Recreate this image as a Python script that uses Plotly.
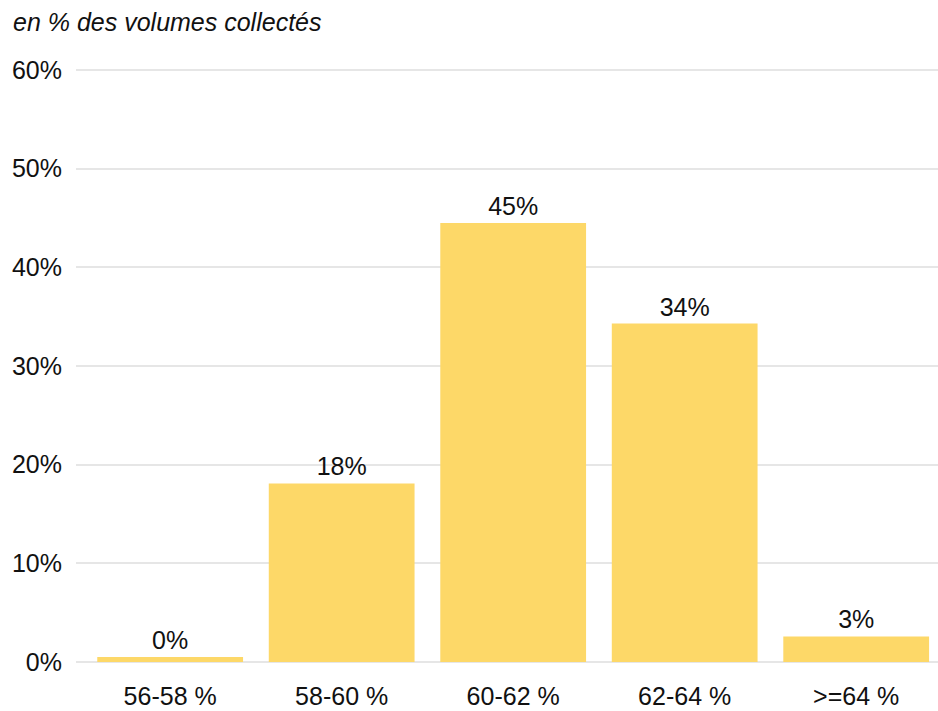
import plotly.graph_objects as go

categories = ["56-58 %", "58-60 %", "60-62 %", "62-64 %", ">=64 %"]
values = [0.5, 18.1, 44.5, 34.3, 2.6]
labels = ["0%", "18%", "45%", "34%", "3%"]
y_ticks = [0, 10, 20, 30, 40, 50, 60]
y_ticktext = ["0%", "10%", "20%", "30%", "40%", "50%", "60%"]

FONT = "Liberation Sans, Arial, sans-serif"
FS = 25

fig = go.Figure(go.Bar(
    x=list(range(len(categories))),
    y=values,
    text=labels,
    textposition="outside",
    textfont=dict(family=FONT, size=FS, color="#111111"),
    marker=dict(color="#fdd868", line=dict(width=0)),
    width=0.85,
    cliponaxis=False,
))

fig.update_layout(
    width=938, height=711,
    margin=dict(l=76, r=0, t=67, b=46, autoexpand=False),
    paper_bgcolor="white", plot_bgcolor="white",
    font=dict(family=FONT, size=FS, color="#111111"),
    showlegend=False,
    xaxis=dict(
        range=[-0.549, 4.477],
        tickvals=list(range(len(categories))),
        ticktext=categories,
        showgrid=False, zeroline=False, showline=False,
        ticks="outside", ticklen=9, tickcolor="rgba(0,0,0,0)",
        tickfont=dict(size=FS), automargin=False,
    ),
    yaxis=dict(
        range=[-0.3, 60.3],
        tickvals=y_ticks,
        ticktext=y_ticktext,
        showgrid=True, gridcolor="#e6e6e6", gridwidth=2,
        zeroline=False, showline=False,
        ticks="outside", ticklen=8, tickcolor="rgba(0,0,0,0)",
        tickfont=dict(size=FS), automargin=False,
    ),
    annotations=[dict(
        text="<i>en % des volumes collectés</i>",
        xref="paper", yref="paper", x=-76/862, y=1 + 45/598,
        xanchor="left", yanchor="middle", showarrow=False,
        xshift=11,
        font=dict(family=FONT, size=FS, color="#111111"),
    )],
)

fig.write_html("out.html", config={"displayModeBar": False},
               post_script="document.body.style.margin='0';")
